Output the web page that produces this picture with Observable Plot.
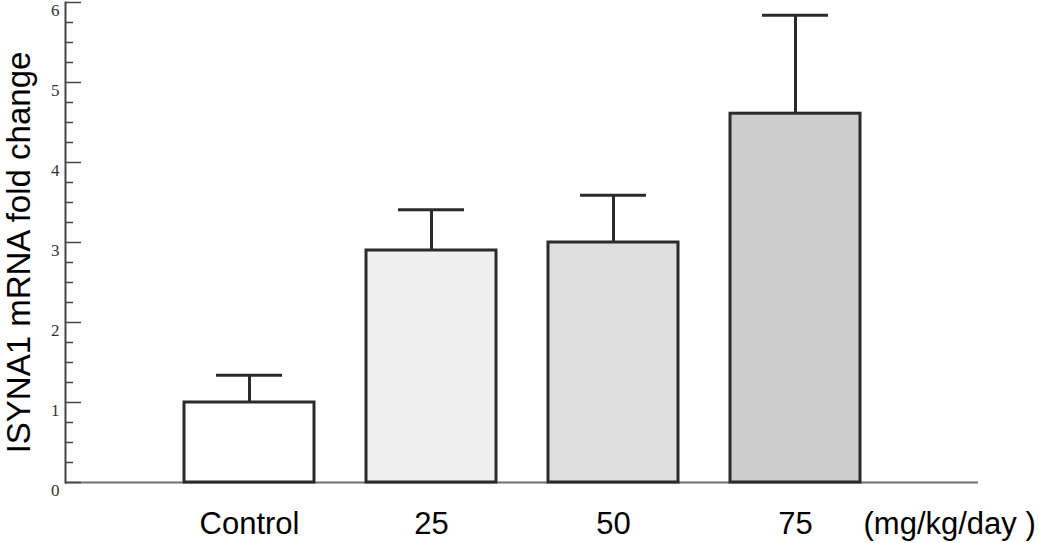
<!DOCTYPE html>
<html>
<head>
<meta charset="utf-8">
<script src="https://cdn.jsdelivr.net/npm/d3@7"></script>
<script src="https://cdn.jsdelivr.net/npm/@observablehq/plot@0.6"></script>
<style>
  html, body { margin: 0; padding: 0; background: #ffffff; }
</style>
</head>
<body>
<div id="chart"></div>
<script>
const categories = ["Control", "25", "50", "75"];
const means = [1.0, 2.9, 3.0, 4.61];
const errors = [0.34, 0.51, 0.59, 1.23];
const fills = ["#ffffff", "#efefef", "#dedede", "#cdcdcd"];
const yTicks = [0, 1, 2, 3, 4, 5, 6];
const yTickLabels = ["0", "1", "2", "3", "4", "5", "6"];
const yMinorTicks = [0.25, 0.5, 0.75, 1.25, 1.5, 1.75, 2.25, 2.5, 2.75, 3.25, 3.5, 3.75, 4.25, 4.5, 4.75, 5.25, 5.5, 5.75];
const unitLabel = "(mg/kg/day )";
const yTitle = "ISYNA1 mRNA fold change";

const data = categories.map((c, i) => ({cat: c, mean: means[i], err: errors[i], fill: fills[i]}));

const W = 1050, H = 543, ML = 65, MR = 72, MT = 2, MB = 61;
const frameW = W - ML - MR;
const dark = "#2b2b2b";

const chart = Plot.plot({
  width: W, height: H,
  marginLeft: ML, marginRight: MR, marginTop: MT, marginBottom: MB,
  style: {background: "#ffffff", fontFamily: "Liberation Sans, Arial, sans-serif", color: "#000"},
  x: {domain: categories, range: [156.75, 887.25], paddingInner: 0.2877, paddingOuter: 0.1438, axis: null},
  y: {domain: [0, 6], axis: null},
  color: {type: "identity"},
  marks: [
    Plot.ruleY([0], {stroke: "#6e6e6e", strokeWidth: 2}),
    Plot.frame({anchor: "left", stroke: "#444", strokeWidth: 2}),
    Plot.tickY(yMinorTicks, {y: d => d, stroke: "#444", strokeWidth: 1.5, insetRight: frameW - 8}),
    Plot.tickY(yTicks, {y: d => d, stroke: "#444", strokeWidth: 1.5, insetRight: frameW - 16}),
    Plot.axisY({ticks: yTicks, tickFormat: (d, i) => yTickLabels[yTicks.indexOf(d)], tickSize: 0, tickPadding: 6, label: null, fontFamily: "Liberation Serif, Times New Roman, serif", fontSize: 17, fill: "#333", dy: 8}),
    Plot.ruleX(data, {x: "cat", y1: "mean", y2: d => d.mean + d.err, stroke: dark, strokeWidth: 3}),
    Plot.tickY(data, {x: "cat", y: d => d.mean + d.err, insetLeft: 32, insetRight: 32, stroke: dark, strokeWidth: 3}),
    Plot.barY(data, {x: "cat", y: "mean", fill: "fill", stroke: dark, strokeWidth: 3}),
    Plot.axisX({tickSize: 0, tickPadding: 29, fontSize: 31, label: null, fill: "#000"}),
    Plot.text([unitLabel], {text: d => d, frameAnchor: "bottom-right", textAnchor: "start", lineAnchor: "top", dx: -115, dy: 29, fontSize: 31, fill: "#000"}),
    Plot.text([yTitle], {text: d => d, frameAnchor: "left", textAnchor: "middle", lineAnchor: "middle", rotate: -90, dx: -46, dy: 10, fontSize: 33, fill: "#000"})
  ]
});
document.getElementById("chart").appendChild(chart);
</script>
</body>
</html>
